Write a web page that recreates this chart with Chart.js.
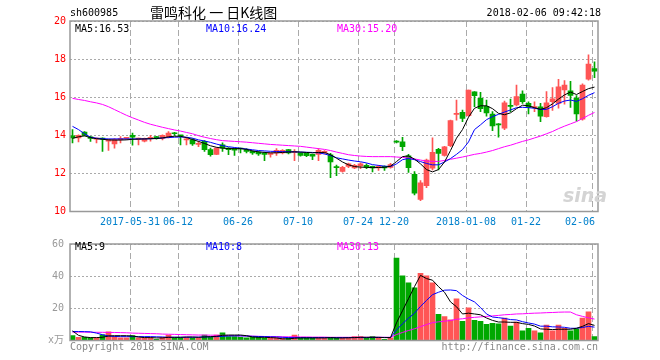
<!DOCTYPE html>
<html>
<head>
<meta charset="utf-8">
<script src="https://cdn.jsdelivr.net/npm/chart.js@4.4.1/dist/chart.umd.min.js"></script>
<style>
  body { margin: 0; width: 660px; height: 360px; position: relative; overflow: hidden; background: #fff;
         font-family: "DejaVu Sans Mono", monospace; font-size: 10px; }
  canvas { position: absolute; left: 0; }
  .t { position: absolute; white-space: pre; line-height: 12px; }
</style>
</head>
<body>
<canvas id="kline" width="660" height="232" style="top:0"></canvas>
<canvas id="vol" width="660" height="128" style="top:232px"></canvas>

<div class="t" style="left:70px;top:7px">sh600985</div>
<div class="t" style="left:150px;top:4px;font-family:'Noto Sans CJK SC';font-size:14px;line-height:17px">雷鸣科化 一 日K线图</div>
<div class="t" style="right:59px;top:7px">2018-02-06 09:42:18</div>

<div class="t" id="ma5" style="left:75px;top:23px;color:#000"></div>
<div class="t" id="ma10" style="left:206px;top:23px;color:#00f"></div>
<div class="t" id="ma30" style="left:337px;top:23px;color:#f0f"></div>
<div class="t" id="vma5" style="left:75px;top:241px;color:#000"></div>
<div class="t" id="vma10" style="left:206px;top:241px;color:#00f"></div>
<div class="t" id="vma30" style="left:337px;top:241px;color:#f0f"></div>

<div class="t" style="left:563px;top:184px;font:italic bold 19px 'DejaVu Sans';line-height:22px;color:#d4d4d4">sina</div>
<div class="t" style="left:70px;top:341px;color:#888">Copyright 2018 SINA.COM</div>
<div class="t" style="right:62px;top:341px;color:#888">http://finance.sina.com.cn</div>

<script>
// daily candles, 88 trading days (2017-05-17 .. 2018-02-06)
const opens = [13.97,13.86,14.17,13.92,13.80,13.86,13.69,13.55,13.77,13.84,
  14.00,13.80,13.69,13.83,13.93,13.83,13.93,14.10,14.00,13.76,
  13.77,13.52,13.68,13.25,13.00,13.50,13.33,13.30,13.32,13.25,
  13.16,13.12,13.07,12.99,13.07,13.07,13.25,13.10,13.07,13.05,
  13.00,12.99,13.07,12.97,12.32,12.11,12.36,12.29,12.39,12.43,
  12.37,12.29,12.37,12.32,13.68,13.66,12.92,11.95,10.64,11.35,
  12.27,13.26,12.95,13.45,15.10,15.20,15.03,16.28,15.94,15.52,
  15.12,14.60,14.37,15.56,15.59,16.17,15.68,15.45,15.50,14.98,
  15.76,15.68,16.38,16.34,15.95,14.85,16.94,17.50];
const highs = [14.30,14.02,14.20,13.95,13.86,13.87,13.80,13.83,13.93,13.90,
  14.12,13.86,13.85,14.00,13.95,14.03,14.20,14.15,14.00,13.90,
  13.83,13.68,13.72,13.33,13.35,13.60,13.36,13.33,13.33,13.30,
  13.18,13.14,13.12,13.07,13.30,13.25,13.27,13.25,13.09,13.07,
  13.02,13.30,13.20,13.05,12.44,12.37,12.54,12.47,12.55,12.50,
  12.38,12.43,12.40,12.53,13.72,13.90,13.00,12.09,11.62,12.75,
  13.87,13.32,13.42,14.80,15.85,15.33,16.38,16.30,16.25,15.85,
  15.24,14.62,15.80,15.90,16.64,16.34,15.76,15.76,15.68,16.30,
  16.50,16.94,16.87,16.83,16.08,16.70,18.22,17.86];
const lows = [13.60,13.65,13.97,13.68,13.60,13.16,13.21,13.33,13.60,13.78,
  13.48,13.50,13.65,13.69,13.80,13.76,13.86,14.00,13.50,13.50,
  13.47,13.40,13.16,12.90,12.98,13.16,12.98,12.95,13.07,13.07,
  12.99,12.95,12.67,12.85,12.95,13.02,13.02,12.67,12.90,12.88,
  12.72,12.67,13.02,11.78,11.88,12.07,12.30,12.25,12.25,12.25,
  12.08,12.15,12.15,12.28,13.60,13.19,12.05,10.87,10.57,11.25,
  12.18,12.18,12.90,13.40,14.80,14.71,15.00,15.50,15.24,15.00,
  14.24,13.90,14.30,15.24,15.54,15.68,15.12,15.24,14.71,14.95,
  15.30,15.42,15.64,15.47,14.74,14.80,16.90,17.02];
const closes = [13.86,14.00,14.00,13.83,13.83,13.80,13.78,13.77,13.82,13.86,
  13.90,13.83,13.83,13.90,13.83,14.00,14.12,14.08,13.97,13.80,
  13.55,13.56,13.25,12.98,13.33,13.33,13.25,13.22,13.28,13.16,
  13.07,13.02,12.99,13.07,13.21,13.21,13.07,13.14,12.95,12.93,
  12.90,13.21,13.16,12.60,12.30,12.32,12.50,12.42,12.50,12.32,
  12.29,12.37,12.29,12.46,13.64,13.40,12.30,10.96,11.51,12.70,
  13.10,13.05,13.40,14.77,15.15,14.88,16.38,16.08,15.40,15.18,
  14.49,14.55,15.70,15.52,16.03,15.76,15.47,15.50,15.00,15.70,
  15.92,16.55,16.64,16.10,15.12,16.64,17.74,17.36];

// moving averages as drawn in the picture
const ma5 = [13.84,13.92,13.97,13.88,13.82,13.79,13.76,13.75,13.75,13.76,
  13.79,13.80,13.81,13.82,13.83,13.86,13.92,13.95,13.95,13.88,
  13.78,13.68,13.57,13.45,13.37,13.33,13.30,13.30,13.30,13.26,
  13.18,13.13,13.10,13.08,13.08,13.10,13.12,13.13,13.12,13.10,
  13.08,13.10,13.10,12.98,12.80,12.60,12.45,12.36,12.33,12.32,
  12.30,12.31,12.32,12.38,12.62,12.88,12.92,12.75,12.50,12.20,
  12.08,12.20,12.60,13.20,13.85,14.30,14.95,15.42,15.55,15.55,
  15.40,15.15,15.08,15.18,15.40,15.58,15.55,15.45,15.36,15.45,
  15.65,15.90,16.12,16.27,16.14,16.30,16.45,16.53];
const ma10 = [14.47,14.30,14.08,13.90,13.85,13.82,13.81,13.81,13.81,13.81,
  13.81,13.81,13.81,13.82,13.84,13.86,13.88,13.90,13.91,13.90,
  13.85,13.76,13.70,13.63,13.54,13.46,13.40,13.36,13.32,13.28,
  13.24,13.20,13.18,13.16,13.15,13.14,13.14,13.13,13.12,13.11,
  13.10,13.08,13.02,12.94,12.82,12.76,12.70,12.65,12.61,12.55,
  12.46,12.42,12.38,12.36,12.50,12.72,12.78,12.72,12.62,12.52,
  12.45,12.45,12.60,12.78,13.00,13.25,13.65,14.30,14.55,14.82,
  14.98,15.10,15.22,15.33,15.45,15.47,15.45,15.42,15.36,15.36,
  15.50,15.68,15.80,15.85,15.78,15.92,16.10,16.24];
const ma30 = [15.94,15.88,15.83,15.76,15.70,15.62,15.50,15.35,15.20,15.05,
  14.92,14.80,14.68,14.58,14.50,14.42,14.35,14.28,14.22,14.15,
  14.08,13.98,13.90,13.83,13.77,13.72,13.70,13.68,13.66,13.64,
  13.61,13.58,13.55,13.52,13.50,13.48,13.46,13.44,13.42,13.38,
  13.34,13.30,13.26,13.20,13.12,13.05,12.98,12.94,12.91,12.89,
  12.88,12.88,12.88,12.88,12.86,12.84,12.81,12.76,12.70,12.65,
  12.63,12.63,12.68,12.74,12.80,12.86,12.93,13.00,13.05,13.12,
  13.20,13.30,13.40,13.48,13.58,13.68,13.76,13.86,13.96,14.08,
  14.20,14.35,14.48,14.60,14.72,14.88,15.05,15.20];

// volume (x万)
const volume = [3.0,2.0,2.0,1.6,1.6,3.6,5.4,2.4,1.6,1.6,
  3.0,1.6,1.6,1.6,0.8,2.0,3.4,1.6,1.6,2.0,
  1.6,1.6,3.4,2.0,3.4,4.8,2.4,2.4,2.0,1.6,
  2.0,2.0,1.6,1.6,1.6,1.6,1.6,3.4,1.6,1.6,
  1.6,1.6,1.6,1.6,1.6,1.6,2.0,2.4,2.4,1.6,
  2.4,1.6,0.8,1.6,51.3,40.2,35.8,32.8,41.8,40.2,
  35.8,16.3,14.9,12.9,25.9,11.9,20.3,12.5,11.9,10.0,
  10.7,10.3,13.9,9.0,11.5,6.0,7.6,6.0,4.8,9.6,
  6.0,9.6,7.6,6.0,7.2,13.9,17.9,2.4];
const volMa5 = [6.0,3.2,2.2,1.8,1.8,2.0,2.8,3.0,3.0,3.0,
  2.8,2.2,1.8,1.8,1.6,1.6,2.0,2.0,2.0,2.2,
  2.2,2.0,2.2,2.4,2.6,3.2,3.4,3.4,3.4,3.0,
  2.2,2.0,2.0,1.8,1.6,1.0,1.0,1.4,1.6,1.6,
  1.6,1.6,1.6,1.8,1.6,1.6,1.7,1.8,2.0,2.0,
  2.0,2.0,1.8,1.8,11.0,18.5,26.0,33.5,40.5,38.5,
  37.5,33.5,30.0,24.0,21.0,16.5,17.0,16.5,16.0,14.0,
  12.5,11.5,11.5,11.3,11.3,10.5,10.0,9.0,7.2,7.0,
  6.8,7.0,7.0,7.0,7.6,8.8,10.5,9.4];
const volMa10 = [5.6,5.6,5.5,5.4,4.6,3.6,2.8,2.5,2.4,2.4,
  2.4,2.4,2.4,2.4,2.3,2.2,2.0,2.0,2.0,2.0,
  2.0,2.1,2.2,2.3,2.4,2.6,2.8,2.9,2.9,2.8,
  2.6,2.5,2.4,2.3,2.2,2.0,1.8,1.8,1.8,1.8,
  1.8,1.8,1.8,1.8,1.8,1.8,1.8,1.8,1.8,1.8,
  1.9,1.9,1.9,1.8,6.6,10.4,13.9,17.0,21.2,24.9,
  28.5,30.0,31.3,31.4,31.0,28.0,25.8,24.0,20.5,16.5,
  14.6,14.2,13.7,13.0,12.8,11.7,10.9,10.2,8.9,8.9,
  8.5,8.4,8.2,7.6,7.6,8.1,8.8,8.3];
const volMa30 = [5.2,5.2,5.2,5.1,5.1,5.1,5.0,5.0,4.9,4.8,
  4.6,4.5,4.4,4.3,4.2,4.0,3.9,3.8,3.7,3.6,
  3.5,3.4,3.4,3.3,3.3,3.2,3.1,3.0,2.9,2.8,
  2.7,2.6,2.5,2.4,2.4,2.3,2.3,2.3,2.2,2.2,
  2.1,2.1,2.1,2.0,2.0,2.0,2.0,2.0,2.0,2.0,
  2.0,2.0,2.0,2.0,3.7,5.0,6.2,7.3,8.6,9.9,
  11.1,11.6,12.0,12.4,13.2,13.5,14.1,14.4,14.7,15.0,
  15.3,15.6,16.0,16.2,16.5,16.6,16.8,17.0,17.1,17.3,
  17.4,17.6,17.7,17.7,16.0,15.0,14.1,13.3];

// x axis labels and the candle index they sit on
const tickIdx = [10, 18, 28, 38, 48, 54, 66, 76, 87];
const tickText = ['2017-05-31', '06-12', '06-26', '07-10', '07-24', '12-20', '2018-01-08', '01-22', '02-06'];

const RED = '#ff5555', GREEN = '#00a800';
const last = closes.length - 1;
const colors = closes.map((c, i) => c >= opens[i] ? RED : GREEN);
const xy = arr => arr.map((v, i) => ({ x: i, y: v }));

document.getElementById('ma5').textContent = 'MA5:' + ma5[last].toFixed(2);
document.getElementById('ma10').textContent = 'MA10:' + ma10[last].toFixed(2);
document.getElementById('ma30').textContent = 'MA30:' + ma30[last].toFixed(2);
document.getElementById('vma5').textContent = 'MA5:' + Math.round(volMa5[last]);
document.getElementById('vma10').textContent = 'MA10:' + Math.round(volMa10[last]);
document.getElementById('vma30').textContent = 'MA30:' + Math.round(volMa30[last]);

Chart.defaults.font.family = 'DejaVu Sans Mono, Noto Sans CJK SC';
Chart.defaults.font.size = 10;
Chart.defaults.animation = false;

// grey frame round the plot area
const frame = {
    id: 'frame',
    afterDraw(chart) {
        const { ctx, chartArea: a } = chart;
        ctx.save();
        ctx.strokeStyle = '#999';
        ctx.lineWidth = 1.5;
        ctx.strokeRect(a.left, a.top, a.right - a.left, a.bottom - a.top);
        ctx.restore();
    }
};

function xScale(showLabels, height) {
    return {
        type: 'linear',
        min: -5 / 12,
        max: 88 - 5 / 12,
        bounds: 'data',
        offset: false,
        afterBuildTicks: s => { s.ticks = tickIdx.map(i => ({ value: i - 5 / 12 })); },
        afterFit: s => { s.height = height; },
        grid: { offset: false, color: '#aaa', lineWidth: 1, drawTicks: false },
        border: { display: false, dash: [6, 3] },
        ticks: {
            display: showLabels,
            autoSkip: false,
            maxRotation: 0,
            padding: 5,
            color: '#0080cc',
            // last label sits left of its line, as in the original
            callback: (v, k) => k === tickText.length - 1 ? tickText[k] + '    ' : tickText[k]
        }
    };
}

function maLine(data, color) {
    return { type: 'line', data: xy(data), borderColor: color, borderWidth: 1, pointRadius: 0, tension: 0, order: 0 };
}

new Chart(document.getElementById('kline'), {
    type: 'bar',
    data: {
        datasets: [
            maLine(ma5, '#000'),
            maLine(ma10, '#00f'),
            maLine(ma30, '#f0f'),
            {
                data: opens.map((o, i) => ({ x: i, y: [o, closes[i]] })),
                backgroundColor: colors,
                barThickness: 5,
                minBarLength: 1,
                grouped: false,
                order: 1
            },
            {
                data: lows.map((l, i) => ({ x: i, y: [l, highs[i]] })),
                backgroundColor: colors,
                barThickness: 1,
                grouped: false,
                order: 2
            }
        ]
    },
    options: {
        responsive: false,
        devicePixelRatio: 1,
        layout: { padding: { top: 21, right: 62, left: 0, bottom: 0 }, autoPadding: false },
        plugins: { legend: { display: false }, tooltip: { enabled: false } },
        scales: {
            x: xScale(true, 20.5),
            y: {
                min: 10, max: 20,
                afterFit: s => { s.width = 70; },
                grid: { color: '#aaa', drawTicks: false },
                border: { display: false, dash: [2, 2] },
                ticks: { stepSize: 2, padding: 4, color: '#f00' }
            }
        }
    },
    plugins: [frame]
});

new Chart(document.getElementById('vol'), {
    type: 'bar',
    data: {
        datasets: [
            maLine(volMa5, '#000'),
            maLine(volMa10, '#00f'),
            maLine(volMa30, '#f0f'),
            {
                data: xy(volume),
                backgroundColor: colors,
                barThickness: 5,
                grouped: false,
                order: 1
            }
        ]
    },
    options: {
        responsive: false,
        devicePixelRatio: 1,
        layout: { padding: { top: 8.5, right: 62, left: 0, bottom: 0 }, autoPadding: false },
        plugins: { legend: { display: false }, tooltip: { enabled: false } },
        scales: {
            x: xScale(false, 19.5),
            y: {
                min: 0, max: 60,
                afterFit: s => { s.width = 70; },
                grid: { color: '#aaa', drawTicks: false },
                border: { display: false, dash: [2, 2] },
                ticks: { stepSize: 20, padding: 6, color: '#999', callback: v => v === 0 ? 'x万' : v }
            }
        }
    },
    plugins: [frame]
});
</script>
</body>
</html>
